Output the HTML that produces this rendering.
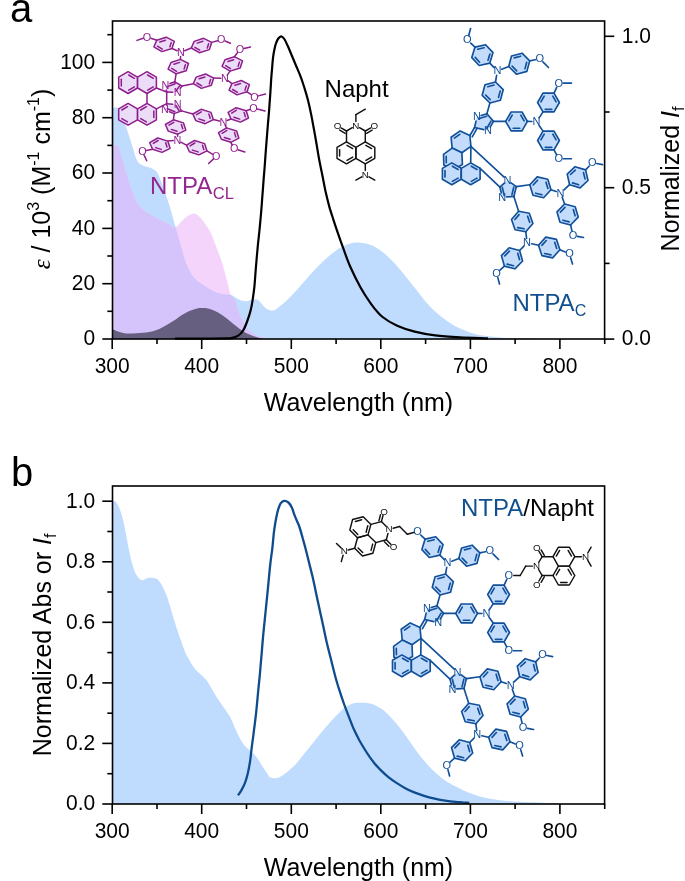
<!DOCTYPE html><html><head><meta charset="utf-8"><style>html,body{margin:0;padding:0;background:#fff;width:685px;height:881px;overflow:hidden}svg{display:block;will-change:transform}text{font-family:"Liberation Sans",sans-serif}.tl{font-size:21px}.tt{font-size:25px}</style></head><body>
<svg width="685" height="881" viewBox="0 0 685 881">
<defs><clipPath id="cb"><path d="M112.8,107.6 C113.3,107.6 115.0,107.4 116.0,107.6 C117.0,107.8 117.5,107.7 118.5,108.8 C119.5,109.9 120.8,111.8 121.9,114.3 C123.0,116.8 124.0,120.7 125.1,123.9 C126.2,127.1 127.1,129.7 128.3,133.4 C129.5,137.1 131.0,141.9 132.3,146.1 C133.6,150.3 135.0,155.9 136.2,158.8 C137.4,161.7 138.1,162.4 139.4,163.6 C140.7,164.8 142.5,165.3 144.2,166.0 C145.9,166.7 148.1,166.9 149.8,167.6 C151.5,168.3 153.2,169.1 154.5,170.0 C155.8,170.9 156.6,171.3 157.7,173.2 C158.8,175.0 159.7,177.9 160.9,181.1 C162.1,184.3 163.6,188.5 164.9,192.2 C166.2,195.9 167.6,199.7 168.8,203.4 C170.0,207.1 170.9,210.6 172.0,214.5 C173.1,218.4 174.4,223.1 175.4,226.6 C176.4,230.1 177.0,232.0 178.0,235.5 C179.0,239.0 180.3,243.7 181.5,247.8 C182.7,251.9 183.5,255.9 185.0,260.0 C186.5,264.1 188.6,269.1 190.3,272.3 C192.1,275.5 193.4,277.2 195.5,279.3 C197.6,281.4 200.2,283.0 202.6,284.6 C204.9,286.2 207.3,287.7 209.6,289.0 C211.9,290.3 214.3,291.6 216.6,292.5 C218.9,293.4 221.3,293.8 223.6,294.2 C225.9,294.6 228.6,294.2 230.6,294.8 C232.6,295.4 234.1,296.8 235.8,297.7 C237.6,298.6 239.3,299.8 241.1,300.4 C242.9,301.0 244.3,301.3 246.4,301.2 C248.5,301.1 251.4,299.6 253.4,299.5 C255.4,299.4 256.5,298.9 258.6,300.4 C260.7,301.8 263.6,306.5 265.8,308.2 C268.0,309.9 269.8,310.5 271.7,310.5 C273.6,310.5 274.6,310.3 277.5,308.2 C280.4,306.1 284.8,302.4 289.2,298.0 C293.6,293.6 298.9,287.2 303.8,281.9 C308.7,276.5 313.5,270.8 318.4,265.9 C323.3,261.0 328.6,256.1 333.0,252.7 C337.4,249.3 340.8,247.1 344.7,245.4 C348.6,243.7 352.5,242.7 356.4,242.5 C360.3,242.3 364.1,242.8 368.0,244.0 C371.9,245.2 375.8,247.1 379.7,249.8 C383.6,252.5 387.5,256.1 391.4,260.0 C395.3,263.9 399.2,268.6 403.1,273.2 C407.0,277.8 410.8,282.9 414.7,287.8 C418.6,292.7 422.5,298.0 426.4,302.4 C430.3,306.8 434.2,310.6 438.1,314.0 C442.0,317.4 446.2,320.4 449.8,322.8 C453.4,325.2 456.6,327.0 460.0,328.6 C463.4,330.2 466.6,331.3 470.0,332.4 C473.4,333.5 476.1,334.4 480.7,335.2 C485.3,336.0 491.8,336.7 497.5,337.2 C503.2,337.7 508.8,337.9 515.0,338.1 C521.2,338.3 531.7,338.5 535.0,338.6 L535.0,339.0 L112.8,339.0 Z"/></clipPath></defs>
<path d="M112.8,107.6 C113.3,107.6 115.0,107.4 116.0,107.6 C117.0,107.8 117.5,107.7 118.5,108.8 C119.5,109.9 120.8,111.8 121.9,114.3 C123.0,116.8 124.0,120.7 125.1,123.9 C126.2,127.1 127.1,129.7 128.3,133.4 C129.5,137.1 131.0,141.9 132.3,146.1 C133.6,150.3 135.0,155.9 136.2,158.8 C137.4,161.7 138.1,162.4 139.4,163.6 C140.7,164.8 142.5,165.3 144.2,166.0 C145.9,166.7 148.1,166.9 149.8,167.6 C151.5,168.3 153.2,169.1 154.5,170.0 C155.8,170.9 156.6,171.3 157.7,173.2 C158.8,175.0 159.7,177.9 160.9,181.1 C162.1,184.3 163.6,188.5 164.9,192.2 C166.2,195.9 167.6,199.7 168.8,203.4 C170.0,207.1 170.9,210.6 172.0,214.5 C173.1,218.4 174.4,223.1 175.4,226.6 C176.4,230.1 177.0,232.0 178.0,235.5 C179.0,239.0 180.3,243.7 181.5,247.8 C182.7,251.9 183.5,255.9 185.0,260.0 C186.5,264.1 188.6,269.1 190.3,272.3 C192.1,275.5 193.4,277.2 195.5,279.3 C197.6,281.4 200.2,283.0 202.6,284.6 C204.9,286.2 207.3,287.7 209.6,289.0 C211.9,290.3 214.3,291.6 216.6,292.5 C218.9,293.4 221.3,293.8 223.6,294.2 C225.9,294.6 228.6,294.2 230.6,294.8 C232.6,295.4 234.1,296.8 235.8,297.7 C237.6,298.6 239.3,299.8 241.1,300.4 C242.9,301.0 244.3,301.3 246.4,301.2 C248.5,301.1 251.4,299.6 253.4,299.5 C255.4,299.4 256.5,298.9 258.6,300.4 C260.7,301.8 263.6,306.5 265.8,308.2 C268.0,309.9 269.8,310.5 271.7,310.5 C273.6,310.5 274.6,310.3 277.5,308.2 C280.4,306.1 284.8,302.4 289.2,298.0 C293.6,293.6 298.9,287.2 303.8,281.9 C308.7,276.5 313.5,270.8 318.4,265.9 C323.3,261.0 328.6,256.1 333.0,252.7 C337.4,249.3 340.8,247.1 344.7,245.4 C348.6,243.7 352.5,242.7 356.4,242.5 C360.3,242.3 364.1,242.8 368.0,244.0 C371.9,245.2 375.8,247.1 379.7,249.8 C383.6,252.5 387.5,256.1 391.4,260.0 C395.3,263.9 399.2,268.6 403.1,273.2 C407.0,277.8 410.8,282.9 414.7,287.8 C418.6,292.7 422.5,298.0 426.4,302.4 C430.3,306.8 434.2,310.6 438.1,314.0 C442.0,317.4 446.2,320.4 449.8,322.8 C453.4,325.2 456.6,327.0 460.0,328.6 C463.4,330.2 466.6,331.3 470.0,332.4 C473.4,333.5 476.1,334.4 480.7,335.2 C485.3,336.0 491.8,336.7 497.5,337.2 C503.2,337.7 508.8,337.9 515.0,338.1 C521.2,338.3 531.7,338.5 535.0,338.6 L535.0,339.0 L112.8,339.0 Z" fill="#BFDBFE"/>
<path d="M112.8,146.5 C113.5,146.3 116.2,145.1 117.2,145.3 C118.2,145.5 117.9,145.7 118.7,147.7 C119.5,149.7 120.8,153.9 121.9,157.3 C123.0,160.8 124.0,164.7 125.1,168.4 C126.2,172.1 127.2,176.1 128.3,179.5 C129.4,182.9 130.3,185.9 131.5,189.1 C132.7,192.3 134.2,195.9 135.4,198.6 C136.6,201.2 137.3,203.2 138.6,205.0 C139.9,206.8 141.8,208.4 143.4,209.7 C145.0,211.0 146.6,211.8 148.2,212.9 C149.8,214.0 151.3,215.2 152.9,216.1 C154.5,217.0 156.1,217.7 157.7,218.5 C159.3,219.3 160.7,220.0 162.5,220.9 C164.3,221.8 167.0,223.1 168.8,224.1 C170.7,225.1 172.3,226.8 173.6,227.2 C174.9,227.6 175.8,227.1 176.8,226.4 C177.8,225.8 178.4,224.7 179.8,223.3 C181.2,221.9 183.2,219.5 185.0,218.0 C186.8,216.5 188.6,215.2 190.3,214.5 C192.1,213.8 193.8,213.1 195.5,213.7 C197.2,214.3 199.1,216.1 200.8,218.0 C202.6,219.9 204.2,222.4 206.0,225.0 C207.8,227.6 209.5,230.0 211.3,233.8 C213.1,237.6 214.8,243.1 216.6,247.8 C218.3,252.5 220.1,256.2 221.8,261.8 C223.6,267.4 225.6,275.6 227.1,281.1 C228.6,286.6 229.3,291.8 230.6,294.8 C231.9,297.8 233.6,296.5 234.9,299.2 C236.2,301.9 237.2,307.6 238.4,310.9 C239.6,314.2 240.5,316.3 241.9,319.0 C243.3,321.7 244.8,324.9 246.6,327.2 C248.3,329.5 250.2,331.4 252.4,333.0 C254.6,334.6 257.4,335.7 260.0,336.6 C262.6,337.5 266.7,338.2 268.0,338.5 L268.0,339.0 L112.8,339.0 Z" fill="#F5D4FC"/>
<path d="M112.8,146.5 C113.5,146.3 116.2,145.1 117.2,145.3 C118.2,145.5 117.9,145.7 118.7,147.7 C119.5,149.7 120.8,153.9 121.9,157.3 C123.0,160.8 124.0,164.7 125.1,168.4 C126.2,172.1 127.2,176.1 128.3,179.5 C129.4,182.9 130.3,185.9 131.5,189.1 C132.7,192.3 134.2,195.9 135.4,198.6 C136.6,201.2 137.3,203.2 138.6,205.0 C139.9,206.8 141.8,208.4 143.4,209.7 C145.0,211.0 146.6,211.8 148.2,212.9 C149.8,214.0 151.3,215.2 152.9,216.1 C154.5,217.0 156.1,217.7 157.7,218.5 C159.3,219.3 160.7,220.0 162.5,220.9 C164.3,221.8 167.0,223.1 168.8,224.1 C170.7,225.1 172.3,226.8 173.6,227.2 C174.9,227.6 175.8,227.1 176.8,226.4 C177.8,225.8 178.4,224.7 179.8,223.3 C181.2,221.9 183.2,219.5 185.0,218.0 C186.8,216.5 188.6,215.2 190.3,214.5 C192.1,213.8 193.8,213.1 195.5,213.7 C197.2,214.3 199.1,216.1 200.8,218.0 C202.6,219.9 204.2,222.4 206.0,225.0 C207.8,227.6 209.5,230.0 211.3,233.8 C213.1,237.6 214.8,243.1 216.6,247.8 C218.3,252.5 220.1,256.2 221.8,261.8 C223.6,267.4 225.6,275.6 227.1,281.1 C228.6,286.6 229.3,291.8 230.6,294.8 C231.9,297.8 233.6,296.5 234.9,299.2 C236.2,301.9 237.2,307.6 238.4,310.9 C239.6,314.2 240.5,316.3 241.9,319.0 C243.3,321.7 244.8,324.9 246.6,327.2 C248.3,329.5 250.2,331.4 252.4,333.0 C254.6,334.6 257.4,335.7 260.0,336.6 C262.6,337.5 266.7,338.2 268.0,338.5 L268.0,339.0 L112.8,339.0 Z" fill="#D4C4FB" clip-path="url(#cb)"/>
<path d="M112.8,329.3 C113.7,329.7 116.2,330.9 117.9,331.5 C119.6,332.1 121.1,332.6 123.1,333.0 C125.1,333.4 127.5,333.6 129.7,333.6 C131.9,333.6 134.1,333.3 136.3,333.2 C138.5,333.1 140.6,333.0 142.8,332.8 C145.0,332.6 147.2,332.3 149.4,331.9 C151.6,331.5 153.8,331.1 156.0,330.3 C158.2,329.5 160.4,328.5 162.6,327.3 C164.8,326.1 166.9,324.7 169.1,323.4 C171.3,322.1 173.5,320.8 175.7,319.4 C177.9,318.0 180.1,316.1 182.3,314.8 C184.5,313.5 186.6,312.3 188.8,311.3 C191.0,310.3 193.4,309.4 195.4,308.9 C197.4,308.3 198.9,308.1 201.0,308.0 C203.1,307.9 205.7,308.0 208.0,308.5 C210.3,309.0 212.7,309.8 215.0,310.9 C217.3,312.0 219.7,313.4 222.0,315.0 C224.3,316.6 226.7,318.3 229.0,320.2 C231.3,322.1 233.7,324.2 236.0,326.1 C238.3,328.0 240.7,329.9 243.0,331.3 C245.3,332.8 247.7,333.8 250.0,334.8 C252.3,335.8 255.0,336.6 257.0,337.2 C259.0,337.8 261.2,338.3 262.0,338.5 L262.0,339.0 L112.8,339.0 Z" fill="#675F80"/>
<path d="M175.0,338.7 C179.2,338.7 191.4,338.7 200.0,338.6 C208.6,338.6 221.5,338.5 226.7,338.4 C231.9,338.3 229.4,338.6 231.3,338.2 C233.2,337.8 236.2,337.0 238.2,335.7 C240.2,334.4 241.7,332.8 243.2,330.4 C244.7,327.9 246.1,324.3 247.3,321.0 C248.5,317.7 249.7,314.1 250.6,310.6 C251.5,307.1 252.0,304.1 252.6,300.1 C253.2,296.1 253.9,291.6 254.4,286.6 C254.9,281.6 255.2,276.4 255.7,270.0 C256.2,263.6 257.0,254.5 257.6,248.0 C258.2,241.5 258.8,236.5 259.4,231.0 C259.9,225.5 260.4,220.7 260.9,215.0 C261.4,209.3 261.9,202.9 262.3,197.0 C262.8,191.1 263.2,185.5 263.6,179.7 C264.1,173.9 264.6,167.9 265.0,162.0 C265.4,156.1 265.9,150.1 266.3,144.3 C266.8,138.5 267.2,132.4 267.7,127.0 C268.1,121.5 268.6,116.9 269.0,111.6 C269.4,106.3 269.8,100.4 270.2,95.0 C270.6,89.6 270.9,83.7 271.2,79.0 C271.5,74.3 271.9,70.6 272.2,67.0 C272.5,63.4 272.7,60.1 273.1,57.2 C273.5,54.3 273.9,51.8 274.4,49.5 C274.9,47.2 275.2,45.4 275.9,43.6 C276.5,41.8 277.4,39.7 278.3,38.5 C279.2,37.3 280.3,36.2 281.3,36.3 C282.3,36.4 283.2,37.4 284.3,39.0 C285.4,40.6 286.5,43.1 287.8,46.0 C289.1,48.9 290.7,53.0 292.2,56.5 C293.7,60.0 295.1,63.5 296.6,67.0 C298.1,70.5 299.7,74.1 301.0,77.6 C302.3,81.1 303.3,84.3 304.5,88.1 C305.7,91.9 306.8,95.6 308.0,100.3 C309.2,105.0 310.5,111.1 311.5,116.1 C312.5,121.1 313.2,125.3 314.1,130.1 C315.0,134.9 315.9,140.4 316.7,145.0 C317.5,149.6 317.9,152.5 318.8,157.5 C319.7,162.5 321.1,169.2 322.3,175.0 C323.5,180.8 324.6,187.3 325.8,192.6 C327.0,197.9 328.0,201.9 329.3,206.6 C330.6,211.3 332.1,215.6 333.7,220.6 C335.3,225.6 337.4,231.7 339.0,236.4 C340.6,241.1 341.5,243.4 343.4,248.6 C345.3,253.8 347.6,260.8 350.5,267.3 C353.4,273.8 357.3,281.7 360.7,287.8 C364.1,293.9 367.4,298.9 371.0,303.8 C374.6,308.7 378.2,313.4 382.6,317.0 C387.0,320.6 391.9,323.3 397.2,325.7 C402.5,328.1 408.4,330.0 414.7,331.6 C421.0,333.2 427.6,334.4 435.2,335.4 C442.8,336.4 451.2,336.9 460.0,337.4 C468.8,337.9 483.3,338.1 488.0,338.3" fill="none" stroke="#000" stroke-width="2.2" stroke-linejoin="round"/>
<path d="M112.8,500.8 C112.9,500.8 112.9,500.5 113.4,500.7 C113.9,500.9 114.8,500.7 115.7,501.8 C116.7,502.9 118.0,504.9 119.1,507.5 C120.2,510.1 121.4,513.4 122.5,517.7 C123.6,522.1 124.8,527.9 125.9,533.6 C127.0,539.3 128.2,546.5 129.3,551.8 C130.4,557.1 131.6,561.7 132.7,565.5 C133.8,569.3 134.6,572.0 136.1,574.5 C137.6,577.0 139.9,579.6 141.8,580.2 C143.7,580.8 145.6,578.4 147.5,578.0 C149.4,577.6 151.5,577.8 153.2,578.0 C154.9,578.2 156.2,578.2 157.7,579.5 C159.2,580.8 160.8,583.1 162.3,585.9 C163.8,588.7 165.3,591.9 166.8,596.1 C168.3,600.3 169.9,606.0 171.4,610.9 C172.9,615.8 174.4,621.0 175.9,625.7 C177.4,630.4 179.0,634.9 180.5,639.3 C182.0,643.6 183.4,648.1 185.0,651.8 C186.6,655.5 188.3,658.4 190.0,661.3 C191.7,664.2 193.4,666.9 195.1,669.0 C196.8,671.1 198.2,672.1 200.2,674.1 C202.2,676.1 205.0,678.4 207.0,680.9 C209.0,683.4 210.4,686.6 212.1,689.4 C213.8,692.2 215.3,694.8 217.3,697.9 C219.3,701.0 221.8,704.7 224.1,708.1 C226.4,711.5 228.9,714.7 230.9,718.4 C232.9,722.1 234.3,726.6 236.0,730.3 C237.7,734.0 239.4,737.7 241.1,740.5 C242.8,743.3 244.2,745.2 246.2,747.3 C248.2,749.4 251.0,751.3 253.0,753.3 C255.0,755.3 256.4,756.9 258.1,759.3 C259.8,761.7 261.6,765.1 263.3,767.8 C265.0,770.5 267.3,773.8 268.4,775.4 C269.5,777.0 268.8,776.7 270.0,777.2 C271.2,777.7 273.9,778.5 275.8,778.3 C277.8,778.1 279.8,777.2 281.7,776.1 C283.6,775.0 285.6,773.4 287.5,771.8 C289.4,770.2 291.4,768.5 293.4,766.6 C295.3,764.7 297.3,762.4 299.2,760.1 C301.1,757.8 303.1,755.2 305.0,752.8 C306.9,750.4 308.9,747.9 310.9,745.5 C312.8,743.1 314.8,740.6 316.7,738.2 C318.6,735.8 320.7,733.2 322.6,730.9 C324.6,728.6 326.5,726.5 328.4,724.3 C330.3,722.1 332.2,719.8 334.2,717.7 C336.1,715.6 338.2,713.7 340.1,711.9 C342.1,710.1 343.9,708.1 345.9,706.8 C347.8,705.5 349.9,704.6 351.8,703.9 C353.8,703.2 355.7,703.0 357.6,702.8 C359.5,702.6 361.3,702.7 363.4,702.8 C365.5,702.9 368.1,703.2 370.0,703.6 C371.9,704.0 372.7,704.1 375.0,705.3 C377.3,706.4 380.9,708.2 383.8,710.5 C386.7,712.8 389.7,716.1 392.6,719.3 C395.5,722.5 398.4,726.0 401.3,729.8 C404.2,733.6 407.2,737.9 410.1,742.0 C413.0,746.1 415.9,750.5 418.8,754.3 C421.7,758.1 424.7,761.6 427.6,764.8 C430.5,768.0 433.5,771.0 436.4,773.6 C439.3,776.2 442.2,778.6 445.1,780.6 C448.0,782.6 451.4,784.5 453.9,785.8 C456.4,787.1 458.3,787.7 460.0,788.5 C461.7,789.3 460.8,789.5 464.1,790.8 C467.4,792.1 474.1,795.0 479.8,796.5 C485.5,798.0 491.6,799.0 498.2,799.9 C504.8,800.8 512.7,801.3 519.3,801.7 C525.9,802.1 530.8,802.2 537.6,802.5 C544.4,802.8 556.3,803.3 560.0,803.5 L560.0,804.0 L112.8,804.0 Z" fill="#BFDBFE"/>
<path d="M238.0,795.3 C238.5,794.5 240.0,792.6 241.2,790.6 C242.3,788.6 243.8,786.2 244.9,783.2 C246.0,780.2 247.0,776.6 247.9,772.9 C248.8,769.2 249.5,765.0 250.1,761.1 C250.7,757.2 250.9,754.2 251.5,749.3 C252.1,744.4 253.1,737.5 253.8,731.6 C254.6,725.7 255.2,721.2 256.0,713.9 C256.8,706.6 257.8,694.8 258.5,688.0 C259.2,681.2 259.6,677.7 260.0,673.0 C260.4,668.3 260.5,666.6 261.1,660.0 C261.7,653.4 262.6,641.5 263.4,633.2 C264.2,625.0 264.9,618.1 265.7,610.5 C266.5,602.9 267.2,595.3 268.0,587.7 C268.8,580.1 269.4,571.8 270.2,565.0 C270.9,558.2 271.9,552.5 272.5,546.8 C273.1,541.1 273.5,535.4 274.1,530.9 C274.7,526.4 275.2,523.1 275.9,519.5 C276.6,515.9 277.4,511.9 278.2,509.3 C279.0,506.7 279.6,505.0 280.5,503.6 C281.4,502.2 282.6,501.1 283.9,500.9 C285.2,500.7 287.1,501.4 288.4,502.5 C289.7,503.6 290.7,505.3 291.8,507.5 C292.9,509.7 293.6,512.8 294.8,515.9 C296.0,519.0 297.8,522.4 299.1,526.0 C300.4,529.6 301.4,533.5 302.5,537.5 C303.6,541.5 304.8,545.6 305.9,550.0 C307.0,554.4 308.2,559.1 309.3,563.6 C310.4,568.1 311.6,572.4 312.7,577.3 C313.8,582.2 315.0,587.9 316.1,593.2 C317.2,598.5 318.4,603.8 319.5,609.1 C320.6,614.4 321.9,619.7 323.0,625.0 C324.1,630.3 325.1,635.2 326.4,640.9 C327.7,646.6 329.4,653.0 330.9,659.1 C332.4,665.2 334.2,672.4 335.5,677.3 C336.8,682.2 337.6,684.4 338.9,688.6 C340.2,692.8 341.9,697.8 343.5,702.5 C345.1,707.2 347.1,712.1 348.8,716.6 C350.6,721.1 352.2,725.7 354.0,729.6 C355.8,733.5 357.6,737.0 359.3,740.2 C361.1,743.4 362.8,746.2 364.5,749.0 C366.2,751.8 368.1,754.7 369.8,757.2 C371.6,759.7 373.0,761.6 375.0,764.0 C377.0,766.4 379.7,769.1 382.0,771.4 C384.3,773.7 386.6,775.7 389.0,777.6 C391.4,779.5 393.5,780.9 396.1,782.6 C398.7,784.3 401.9,786.3 404.8,787.9 C407.7,789.5 410.4,790.8 413.6,792.1 C416.8,793.4 420.6,794.7 424.1,795.8 C427.6,796.9 431.1,797.8 434.6,798.6 C438.1,799.4 441.6,800.1 445.1,800.6 C448.6,801.1 452.8,801.6 455.6,801.9 C458.4,802.2 459.7,802.2 462.0,802.4 C464.3,802.6 468.1,802.8 469.3,802.9" fill="none" stroke="#0E4C8E" stroke-width="2.3" stroke-linejoin="round"/>
<rect x="112.5" y="21.0" width="492.1" height="318.0" fill="none" stroke="#000" stroke-width="1.6"/>
<line x1="102.3" y1="339.0" x2="112.5" y2="339.0" stroke="#000" stroke-width="1.6"/>
<line x1="102.3" y1="283.7" x2="112.5" y2="283.7" stroke="#000" stroke-width="1.6"/>
<line x1="102.3" y1="228.4" x2="112.5" y2="228.4" stroke="#000" stroke-width="1.6"/>
<line x1="102.3" y1="173.0" x2="112.5" y2="173.0" stroke="#000" stroke-width="1.6"/>
<line x1="102.3" y1="117.7" x2="112.5" y2="117.7" stroke="#000" stroke-width="1.6"/>
<line x1="102.3" y1="62.4" x2="112.5" y2="62.4" stroke="#000" stroke-width="1.6"/>
<line x1="107.3" y1="311.3" x2="112.5" y2="311.3" stroke="#000" stroke-width="1.6"/>
<line x1="107.3" y1="256.0" x2="112.5" y2="256.0" stroke="#000" stroke-width="1.6"/>
<line x1="107.3" y1="200.7" x2="112.5" y2="200.7" stroke="#000" stroke-width="1.6"/>
<line x1="107.3" y1="145.4" x2="112.5" y2="145.4" stroke="#000" stroke-width="1.6"/>
<line x1="107.3" y1="90.1" x2="112.5" y2="90.1" stroke="#000" stroke-width="1.6"/>
<line x1="107.3" y1="34.7" x2="112.5" y2="34.7" stroke="#000" stroke-width="1.6"/>
<line x1="112.2" y1="339.0" x2="112.2" y2="349.0" stroke="#000" stroke-width="1.6"/>
<text transform="translate(112.2,372.6) scale(1,1.07)" text-anchor="middle" class="tl">300</text>
<line x1="201.7" y1="339.0" x2="201.7" y2="349.0" stroke="#000" stroke-width="1.6"/>
<text transform="translate(201.7,372.6) scale(1,1.07)" text-anchor="middle" class="tl">400</text>
<line x1="291.3" y1="339.0" x2="291.3" y2="349.0" stroke="#000" stroke-width="1.6"/>
<text transform="translate(291.3,372.6) scale(1,1.07)" text-anchor="middle" class="tl">500</text>
<line x1="380.8" y1="339.0" x2="380.8" y2="349.0" stroke="#000" stroke-width="1.6"/>
<text transform="translate(380.8,372.6) scale(1,1.07)" text-anchor="middle" class="tl">600</text>
<line x1="470.4" y1="339.0" x2="470.4" y2="349.0" stroke="#000" stroke-width="1.6"/>
<text transform="translate(470.4,372.6) scale(1,1.07)" text-anchor="middle" class="tl">700</text>
<line x1="559.9" y1="339.0" x2="559.9" y2="349.0" stroke="#000" stroke-width="1.6"/>
<text transform="translate(559.9,372.6) scale(1,1.07)" text-anchor="middle" class="tl">800</text>
<line x1="157.0" y1="339.0" x2="157.0" y2="344.0" stroke="#000" stroke-width="1.6"/>
<line x1="246.5" y1="339.0" x2="246.5" y2="344.0" stroke="#000" stroke-width="1.6"/>
<line x1="336.1" y1="339.0" x2="336.1" y2="344.0" stroke="#000" stroke-width="1.6"/>
<line x1="425.6" y1="339.0" x2="425.6" y2="344.0" stroke="#000" stroke-width="1.6"/>
<line x1="515.1" y1="339.0" x2="515.1" y2="344.0" stroke="#000" stroke-width="1.6"/>
<line x1="604.7" y1="339.0" x2="604.7" y2="344.0" stroke="#000" stroke-width="1.6"/>
<text transform="translate(95.2,345.3) scale(1,1.07)" text-anchor="end" class="tl">0</text>
<text transform="translate(95.2,290.0) scale(1,1.07)" text-anchor="end" class="tl">20</text>
<text transform="translate(95.2,234.7) scale(1,1.07)" text-anchor="end" class="tl">40</text>
<text transform="translate(95.2,179.3) scale(1,1.07)" text-anchor="end" class="tl">60</text>
<text transform="translate(95.2,124.0) scale(1,1.07)" text-anchor="end" class="tl">80</text>
<text transform="translate(95.2,68.7) scale(1,1.07)" text-anchor="end" class="tl">100</text>
<line x1="604.6" y1="339.1" x2="614.3" y2="339.1" stroke="#000" stroke-width="1.6"/>
<line x1="604.6" y1="187.7" x2="614.3" y2="187.7" stroke="#000" stroke-width="1.6"/>
<line x1="604.6" y1="36.3" x2="614.3" y2="36.3" stroke="#000" stroke-width="1.6"/>
<line x1="604.6" y1="263.4" x2="609.6" y2="263.4" stroke="#000" stroke-width="1.6"/>
<line x1="604.6" y1="112.0" x2="609.6" y2="112.0" stroke="#000" stroke-width="1.6"/>
<text transform="translate(621.8,345.4) scale(1,1.07)" class="tl">0.0</text>
<text transform="translate(621.8,194.0) scale(1,1.07)" class="tl">0.5</text>
<text transform="translate(621.8,42.6) scale(1,1.07)" class="tl">1.0</text>
<rect x="112.5" y="486.0" width="492.1" height="318.0" fill="none" stroke="#000" stroke-width="1.6"/>
<line x1="102.3" y1="804.0" x2="112.5" y2="804.0" stroke="#000" stroke-width="1.6"/>
<line x1="102.3" y1="743.4" x2="112.5" y2="743.4" stroke="#000" stroke-width="1.6"/>
<line x1="102.3" y1="682.9" x2="112.5" y2="682.9" stroke="#000" stroke-width="1.6"/>
<line x1="102.3" y1="622.3" x2="112.5" y2="622.3" stroke="#000" stroke-width="1.6"/>
<line x1="102.3" y1="561.8" x2="112.5" y2="561.8" stroke="#000" stroke-width="1.6"/>
<line x1="102.3" y1="501.2" x2="112.5" y2="501.2" stroke="#000" stroke-width="1.6"/>
<line x1="107.3" y1="773.7" x2="112.5" y2="773.7" stroke="#000" stroke-width="1.6"/>
<line x1="107.3" y1="713.2" x2="112.5" y2="713.2" stroke="#000" stroke-width="1.6"/>
<line x1="107.3" y1="652.6" x2="112.5" y2="652.6" stroke="#000" stroke-width="1.6"/>
<line x1="107.3" y1="592.0" x2="112.5" y2="592.0" stroke="#000" stroke-width="1.6"/>
<line x1="107.3" y1="531.5" x2="112.5" y2="531.5" stroke="#000" stroke-width="1.6"/>
<line x1="112.2" y1="804.0" x2="112.2" y2="814.0" stroke="#000" stroke-width="1.6"/>
<text transform="translate(112.2,837.6) scale(1,1.07)" text-anchor="middle" class="tl">300</text>
<line x1="201.7" y1="804.0" x2="201.7" y2="814.0" stroke="#000" stroke-width="1.6"/>
<text transform="translate(201.7,837.6) scale(1,1.07)" text-anchor="middle" class="tl">400</text>
<line x1="291.3" y1="804.0" x2="291.3" y2="814.0" stroke="#000" stroke-width="1.6"/>
<text transform="translate(291.3,837.6) scale(1,1.07)" text-anchor="middle" class="tl">500</text>
<line x1="380.8" y1="804.0" x2="380.8" y2="814.0" stroke="#000" stroke-width="1.6"/>
<text transform="translate(380.8,837.6) scale(1,1.07)" text-anchor="middle" class="tl">600</text>
<line x1="470.4" y1="804.0" x2="470.4" y2="814.0" stroke="#000" stroke-width="1.6"/>
<text transform="translate(470.4,837.6) scale(1,1.07)" text-anchor="middle" class="tl">700</text>
<line x1="559.9" y1="804.0" x2="559.9" y2="814.0" stroke="#000" stroke-width="1.6"/>
<text transform="translate(559.9,837.6) scale(1,1.07)" text-anchor="middle" class="tl">800</text>
<line x1="157.0" y1="804.0" x2="157.0" y2="809.0" stroke="#000" stroke-width="1.6"/>
<line x1="246.5" y1="804.0" x2="246.5" y2="809.0" stroke="#000" stroke-width="1.6"/>
<line x1="336.1" y1="804.0" x2="336.1" y2="809.0" stroke="#000" stroke-width="1.6"/>
<line x1="425.6" y1="804.0" x2="425.6" y2="809.0" stroke="#000" stroke-width="1.6"/>
<line x1="515.1" y1="804.0" x2="515.1" y2="809.0" stroke="#000" stroke-width="1.6"/>
<line x1="604.7" y1="804.0" x2="604.7" y2="809.0" stroke="#000" stroke-width="1.6"/>
<text transform="translate(95.2,810.3) scale(1,1.07)" text-anchor="end" class="tl">0.0</text>
<text transform="translate(95.2,749.7) scale(1,1.07)" text-anchor="end" class="tl">0.2</text>
<text transform="translate(95.2,689.2) scale(1,1.07)" text-anchor="end" class="tl">0.4</text>
<text transform="translate(95.2,628.6) scale(1,1.07)" text-anchor="end" class="tl">0.6</text>
<text transform="translate(95.2,568.1) scale(1,1.07)" text-anchor="end" class="tl">0.8</text>
<text transform="translate(95.2,507.5) scale(1,1.07)" text-anchor="end" class="tl">1.0</text>
<text x="10" y="22.3" style="font-size:40px">a</text>
<text x="11" y="486.4" style="font-size:40px">b</text>
<text x="358.5" y="411" text-anchor="middle" class="tt">Wavelength (nm)</text>
<text x="358.5" y="876" text-anchor="middle" class="tt">Wavelength (nm)</text>
<text transform="translate(49.7,179) rotate(-90)" text-anchor="middle" class="tt"><tspan style="font-family:'Liberation Serif';font-style:italic">&#949;</tspan> / 10<tspan dy="-10.5" style="font-size:16px">3</tspan><tspan dy="10.5"> (M</tspan><tspan dy="-10.5" style="font-size:16px">-1</tspan><tspan dy="10.5"> cm</tspan><tspan dy="-10.5" style="font-size:16px">-1</tspan><tspan dy="10.5">)</tspan></text>
<text transform="translate(678.7,179) rotate(-90)" text-anchor="middle" class="tt">Normalized <tspan font-style="italic">I</tspan><tspan dy="5" style="font-size:16px">f</tspan></text>
<text transform="translate(50.7,644.9) rotate(-90)" text-anchor="middle" class="tt">Normalized Abs or <tspan font-style="italic">I</tspan><tspan dy="5" style="font-size:16px">f</tspan></text>
<text x="150" y="193.6" style="font-size:24px" fill="#93268F">NTPA<tspan dy="5.6" dx="0.5" style="font-size:16.6px">CL</tspan></text>
<text x="512.4" y="310.6" style="font-size:24px" fill="#10508F">NTPA<tspan dy="5.3" style="font-size:16px">C</tspan></text>
<text x="324.6" y="97.1" style="font-size:24px">Napht</text>
<text x="461" y="515.6" style="font-size:24px"><tspan fill="#10508F">NTPA</tspan>/Napht</text>
<g stroke="#8F1E8D" stroke-width="1.50" stroke-linejoin="round" stroke-linecap="round" fill="none">
<polygon points="137.5,88.0 128.1,93.5 118.7,88.0 118.7,77.1 128.1,71.7 137.5,77.1" fill="#EBDCF7"/>
<line x1="134.4" y1="86.9" x2="128.7" y2="90.2"/>
<line x1="121.3" y1="85.9" x2="121.3" y2="79.3"/>
<line x1="128.7" y1="75.0" x2="134.4" y2="78.3"/>
<polygon points="156.4,88.0 147.0,93.5 137.6,88.0 137.6,77.1 147.0,71.7 156.4,77.1" fill="#EBDCF7"/>
<line x1="153.3" y1="86.9" x2="147.6" y2="90.2"/>
<line x1="147.6" y1="75.0" x2="153.3" y2="78.3"/>
<polygon points="137.5,119.8 128.1,125.2 118.7,119.8 118.7,108.8 128.1,103.4 137.5,108.8" fill="#EBDCF7"/>
<line x1="127.5" y1="121.9" x2="121.8" y2="118.6"/>
<line x1="121.8" y1="110.0" x2="127.5" y2="106.7"/>
<polygon points="156.4,119.8 147.0,125.2 137.6,119.8 137.6,108.8 147.0,103.4 156.4,108.8" fill="#EBDCF7"/>
<line x1="146.4" y1="121.9" x2="140.7" y2="118.6"/>
<line x1="140.7" y1="110.0" x2="146.4" y2="106.7"/>
<line x1="153.8" y1="111.0" x2="153.8" y2="117.6"/>
<polygon points="166.7,92.0 165.3,85.2 174.8,81.8 182.0,86.0 177.7,92.4" fill="#EBDCF7" stroke="none"/>
<line x1="166.7" y1="92.0" x2="166.3" y2="90.1"/>
<line x1="170.0" y1="83.5" x2="174.8" y2="81.8"/>
<line x1="174.8" y1="81.8" x2="182.0" y2="86.0"/>
<line x1="182.0" y1="86.0" x2="180.5" y2="88.2"/>
<line x1="172.7" y1="92.2" x2="166.7" y2="92.0"/>
<line x1="167.6" y1="86.6" x2="175.2" y2="83.8"/>
<line x1="179.4" y1="86.1" x2="176.0" y2="91.2"/>
<polygon points="166.7,103.7 164.8,109.8 174.2,113.6 181.6,110.9 177.7,104.6" fill="#EBDCF7" stroke="none"/>
<line x1="166.7" y1="103.7" x2="166.3" y2="105.0"/>
<line x1="169.4" y1="111.7" x2="174.2" y2="113.6"/>
<line x1="174.2" y1="113.6" x2="181.6" y2="110.9"/>
<line x1="181.6" y1="110.9" x2="180.3" y2="108.9"/>
<line x1="172.7" y1="104.2" x2="166.7" y2="103.7"/>
<line x1="167.4" y1="108.7" x2="174.9" y2="111.7"/>
<line x1="179.0" y1="110.5" x2="175.9" y2="105.5"/>
<polygon points="153.9,46.9 156.8,40.3 166.2,37.2 174.3,41.3 172.0,48.5 161.9,51.6" fill="#EBDCF7"/>
<line x1="159.8" y1="42.0" x2="165.5" y2="40.2"/>
<line x1="171.2" y1="42.6" x2="169.9" y2="46.9"/>
<line x1="162.3" y1="49.1" x2="157.5" y2="46.2"/>
<polygon points="191.3,48.0 194.2,41.4 203.6,38.3 211.7,42.4 209.4,49.6 199.3,52.7" fill="#EBDCF7"/>
<line x1="197.2" y1="43.1" x2="202.9" y2="41.3"/>
<line x1="208.6" y1="43.7" x2="207.3" y2="48.0"/>
<line x1="199.7" y1="50.2" x2="194.9" y2="47.3"/>
<polygon points="168.1,69.1 171.0,62.5 180.4,59.4 188.5,63.5 186.2,70.7 176.1,73.8" fill="#EBDCF7"/>
<line x1="174.0" y1="64.2" x2="179.7" y2="62.4"/>
<line x1="185.4" y1="64.8" x2="184.1" y2="69.1"/>
<line x1="176.5" y1="71.3" x2="171.7" y2="68.4"/>
<polygon points="193.3,83.7 196.2,77.1 205.6,74.0 213.7,78.1 211.4,85.3 201.3,88.4" fill="#EBDCF7"/>
<line x1="199.2" y1="78.8" x2="204.9" y2="77.0"/>
<line x1="210.6" y1="79.4" x2="209.3" y2="83.7"/>
<line x1="201.7" y1="85.9" x2="196.9" y2="83.0"/>
<polygon points="222.1,66.4 225.0,59.8 234.4,56.7 242.5,60.8 240.2,68.0 230.1,71.1" fill="#EBDCF7"/>
<line x1="228.0" y1="61.5" x2="233.7" y2="59.7"/>
<line x1="239.4" y1="62.1" x2="238.1" y2="66.4"/>
<line x1="230.5" y1="68.6" x2="225.7" y2="65.7"/>
<polygon points="229.0,90.2 231.9,83.6 241.3,80.5 249.4,84.6 247.1,91.8 237.0,94.9" fill="#EBDCF7"/>
<line x1="234.9" y1="85.3" x2="240.6" y2="83.5"/>
<line x1="246.3" y1="85.9" x2="245.0" y2="90.2"/>
<line x1="237.4" y1="92.4" x2="232.6" y2="89.5"/>
<polygon points="192.9,114.0 195.8,120.6 205.2,123.7 213.3,119.6 211.0,112.4 200.9,109.3" fill="#EBDCF7"/>
<line x1="198.8" y1="118.9" x2="204.5" y2="120.7"/>
<line x1="210.2" y1="118.3" x2="208.9" y2="114.0"/>
<line x1="201.3" y1="111.8" x2="196.5" y2="114.7"/>
<polygon points="228.1,112.4 231.0,119.0 240.4,122.1 248.5,118.0 246.2,110.8 236.1,107.7" fill="#EBDCF7"/>
<line x1="234.0" y1="117.3" x2="239.7" y2="119.1"/>
<line x1="245.4" y1="116.7" x2="244.1" y2="112.4"/>
<line x1="236.5" y1="110.2" x2="231.7" y2="113.1"/>
<polygon points="218.5,132.6 221.4,139.2 230.8,142.3 238.9,138.2 236.6,131.0 226.5,127.9" fill="#EBDCF7"/>
<line x1="224.4" y1="137.5" x2="230.1" y2="139.3"/>
<line x1="235.8" y1="136.9" x2="234.5" y2="132.6"/>
<line x1="226.9" y1="130.4" x2="222.1" y2="133.3"/>
<polygon points="165.4,124.5 168.3,131.1 177.7,134.2 185.8,130.1 183.5,122.9 173.4,119.8" fill="#EBDCF7"/>
<line x1="171.3" y1="129.4" x2="177.0" y2="131.2"/>
<line x1="182.7" y1="128.8" x2="181.4" y2="124.5"/>
<line x1="173.8" y1="122.3" x2="169.0" y2="125.2"/>
<polygon points="149.7,142.7 152.6,149.3 162.0,152.4 170.1,148.3 167.8,141.1 157.7,138.0" fill="#EBDCF7"/>
<line x1="155.6" y1="147.6" x2="161.3" y2="149.4"/>
<line x1="167.0" y1="147.0" x2="165.7" y2="142.7"/>
<line x1="158.1" y1="140.5" x2="153.3" y2="143.4"/>
<polygon points="186.5,145.2 189.4,151.8 198.8,154.9 206.9,150.8 204.6,143.6 194.5,140.5" fill="#EBDCF7"/>
<line x1="192.4" y1="150.1" x2="198.1" y2="151.9"/>
<line x1="203.8" y1="149.5" x2="202.5" y2="145.2"/>
<line x1="194.9" y1="143.0" x2="190.1" y2="145.9"/>
<line x1="147.0" y1="93.5" x2="147.0" y2="103.4"/>
<line x1="156.4" y1="88.0" x2="166.7" y2="92.0"/>
<line x1="156.4" y1="108.8" x2="166.7" y2="103.7"/>
<line x1="166.7" y1="92.0" x2="166.7" y2="103.7"/>
<line x1="172.0" y1="48.5" x2="177.2" y2="50.8"/>
<line x1="184.6" y1="50.8" x2="191.3" y2="48.0"/>
<line x1="180.6" y1="56.4" x2="180.4" y2="59.4"/>
<line x1="176.1" y1="73.8" x2="174.8" y2="81.8"/>
<line x1="156.8" y1="40.3" x2="150.8" y2="38.3"/>
<line x1="143.2" y1="38.3" x2="137.0" y2="40.4"/>
<line x1="211.7" y1="42.4" x2="217.5" y2="40.7"/>
<line x1="225.0" y1="41.0" x2="230.5" y2="43.2"/>
<line x1="182.0" y1="86.0" x2="193.3" y2="83.7"/>
<line x1="213.7" y1="78.1" x2="220.8" y2="78.2"/>
<line x1="227.2" y1="75.1" x2="230.1" y2="71.1"/>
<line x1="234.4" y1="56.7" x2="237.6" y2="52.5"/>
<line x1="243.9" y1="48.4" x2="250.5" y2="47.0"/>
<line x1="228.0" y1="80.7" x2="231.9" y2="83.6"/>
<line x1="247.1" y1="91.8" x2="251.2" y2="94.7"/>
<line x1="258.4" y1="95.9" x2="265.5" y2="94.0"/>
<line x1="181.6" y1="110.9" x2="192.9" y2="114.0"/>
<line x1="213.3" y1="119.6" x2="219.5" y2="121.1"/>
<line x1="227.1" y1="120.5" x2="231.0" y2="119.0"/>
<line x1="246.2" y1="110.8" x2="249.7" y2="109.5"/>
<line x1="257.3" y1="109.1" x2="265.0" y2="111.1"/>
<line x1="225.3" y1="125.5" x2="226.5" y2="127.9"/>
<line x1="230.8" y1="142.3" x2="232.2" y2="145.1"/>
<line x1="237.9" y1="149.8" x2="244.8" y2="152.0"/>
<line x1="174.2" y1="113.6" x2="173.4" y2="119.8"/>
<line x1="177.7" y1="134.2" x2="177.6" y2="136.3"/>
<line x1="173.3" y1="140.6" x2="167.8" y2="141.1"/>
<line x1="152.6" y1="149.3" x2="146.3" y2="150.5"/>
<line x1="144.0" y1="154.9" x2="146.7" y2="160.8"/>
<line x1="180.8" y1="142.2" x2="186.5" y2="145.2"/>
<line x1="206.9" y1="150.8" x2="212.8" y2="154.3"/>
<line x1="213.3" y1="159.1" x2="208.6" y2="163.5"/>
</g>
<g fill="#8F1E8D" font-size="10.8" text-anchor="middle" style="font-family:'Liberation Sans',sans-serif">
<text x="165.3" y="88.7">N</text>
<text x="177.7" y="95.9">N</text>
<text x="164.8" y="113.3">N</text>
<text x="177.7" y="108.1">N</text>
<text x="180.9" y="55.9">N</text>
<text x="147.0" y="40.5">O</text>
<text x="221.3" y="43.0">O</text>
<text x="224.8" y="81.8">N</text>
<text x="240.0" y="52.8">O</text>
<text x="254.5" y="100.5">O</text>
<text x="223.4" y="125.5">N</text>
<text x="253.4" y="111.6">O</text>
<text x="234.1" y="152.1">O</text>
<text x="177.3" y="143.8">N</text>
<text x="142.4" y="154.8">O</text>
<text x="216.2" y="159.8">O</text>
</g>
<g stroke="#11509A" stroke-width="1.65" stroke-linejoin="round" stroke-linecap="round" fill="none">
<polygon points="489.8,63.1 479.2,65.5 471.8,57.6 475.0,47.1 485.6,44.7 493.0,52.6" fill="#C3DCFC"/>
<line x1="479.6" y1="62.2" x2="475.2" y2="57.4"/>
<line x1="477.7" y1="49.2" x2="484.0" y2="47.7"/>
<line x1="489.9" y1="54.0" x2="488.0" y2="60.2"/>
<polygon points="526.9,71.4 516.4,74.2 508.7,66.5 511.5,56.0 522.0,53.2 529.7,60.9" fill="#C3DCFC"/>
<line x1="516.7" y1="70.8" x2="512.1" y2="66.2"/>
<line x1="514.3" y1="57.9" x2="520.6" y2="56.2"/>
<line x1="526.7" y1="62.3" x2="525.0" y2="68.6"/>
<polygon points="500.4,100.2 489.9,103.0 482.2,95.3 485.0,84.8 495.5,82.0 503.2,89.7" fill="#C3DCFC"/>
<line x1="490.2" y1="99.6" x2="485.6" y2="95.0"/>
<line x1="487.8" y1="86.7" x2="494.1" y2="85.0"/>
<line x1="500.2" y1="91.1" x2="498.5" y2="97.4"/>
<polygon points="486.9,113.7 476.9,116.8 474.6,127.5 488.1,130.6 493.5,121.4" fill="#C3DCFC" stroke="none"/>
<line x1="486.9" y1="113.7" x2="481.1" y2="115.5"/>
<line x1="476.0" y1="121.1" x2="474.6" y2="127.5"/>
<line x1="474.6" y1="127.5" x2="483.8" y2="129.6"/>
<line x1="490.3" y1="126.8" x2="493.5" y2="121.4"/>
<line x1="493.5" y1="121.4" x2="486.9" y2="113.7"/>
<line x1="486.6" y1="116.2" x2="478.6" y2="118.7"/>
<line x1="486.7" y1="128.5" x2="491.0" y2="121.2"/>
<polygon points="527.4,121.4 522.0,130.8 511.1,130.8 505.6,121.4 511.1,112.0 522.0,112.0" fill="#C3DCFC"/>
<line x1="519.8" y1="128.2" x2="513.2" y2="128.2"/>
<line x1="508.9" y1="120.8" x2="512.2" y2="115.1"/>
<line x1="520.8" y1="115.1" x2="524.1" y2="120.8"/>
<polygon points="559.4,102.5 554.0,111.9 543.0,111.9 537.6,102.5 543.0,93.1 554.0,93.1" fill="#C3DCFC"/>
<line x1="551.8" y1="109.3" x2="545.2" y2="109.3"/>
<line x1="540.9" y1="101.9" x2="544.2" y2="96.2"/>
<line x1="552.8" y1="96.2" x2="556.1" y2="101.9"/>
<polygon points="559.4,140.5 554.0,149.9 543.0,149.9 537.6,140.5 543.0,131.1 554.0,131.1" fill="#C3DCFC"/>
<line x1="551.8" y1="147.3" x2="545.2" y2="147.3"/>
<line x1="540.9" y1="139.9" x2="544.2" y2="134.2"/>
<line x1="552.8" y1="134.2" x2="556.1" y2="139.9"/>
<polygon points="470.9,146.4 461.9,152.7 452.1,148.1 451.1,137.2 460.1,130.9 469.9,135.5" fill="#C3DCFC"/>
<line x1="454.4" y1="138.1" x2="459.8" y2="134.3"/>
<polygon points="461.9,152.7 452.1,148.1 443.5,154.4 443.8,165.0 453.0,170.0 462.4,164.5" fill="#C3DCFC"/>
<line x1="446.2" y1="156.4" x2="446.3" y2="162.7"/>
<polygon points="461.2,179.2 451.8,184.7 442.4,179.2 442.4,168.4 451.8,162.9 461.2,168.3" fill="#C3DCFC"/>
<line x1="458.1" y1="178.1" x2="452.4" y2="181.4"/>
<line x1="445.0" y1="177.1" x2="445.0" y2="170.5"/>
<line x1="452.4" y1="166.2" x2="458.1" y2="169.5"/>
<polygon points="480.1,179.2 470.7,184.7 461.3,179.2 461.3,168.4 470.7,162.9 480.1,168.3" fill="#C3DCFC"/>
<line x1="477.0" y1="178.1" x2="471.3" y2="181.4"/>
<line x1="471.3" y1="166.2" x2="477.0" y2="169.5"/>
<polygon points="507.5,180.2 516.3,186.6 513.9,196.5 502.3,197.1 499.9,187.2" fill="#C3DCFC" stroke="none"/>
<line x1="511.1" y1="182.8" x2="516.3" y2="186.6"/>
<line x1="516.3" y1="186.6" x2="513.9" y2="196.5"/>
<line x1="513.9" y1="196.5" x2="506.7" y2="196.9"/>
<line x1="501.3" y1="192.8" x2="499.9" y2="187.2"/>
<line x1="499.9" y1="187.2" x2="504.3" y2="183.2"/>
<line x1="513.8" y1="187.0" x2="511.9" y2="194.9"/>
<line x1="504.2" y1="195.3" x2="502.3" y2="187.4"/>
<polygon points="551.0,189.8 543.6,197.7 533.0,195.3 529.8,184.8 537.2,176.9 547.8,179.3" fill="#C3DCFC"/>
<line x1="542.0" y1="194.7" x2="535.7" y2="193.2"/>
<line x1="533.2" y1="185.0" x2="537.6" y2="180.2"/>
<line x1="546.0" y1="182.2" x2="547.9" y2="188.4"/>
<polygon points="588.0,180.5 580.1,187.9 569.6,184.7 567.2,174.1 575.1,166.7 585.6,169.9" fill="#C3DCFC"/>
<line x1="578.7" y1="184.8" x2="572.5" y2="182.9"/>
<line x1="570.5" y1="174.5" x2="575.3" y2="170.1"/>
<line x1="583.5" y1="172.6" x2="585.0" y2="178.9"/>
<polygon points="578.2,217.1 570.6,225.0 560.0,222.3 557.0,211.9 564.6,204.0 575.2,206.7" fill="#C3DCFC"/>
<line x1="569.1" y1="221.9" x2="562.8" y2="220.3"/>
<line x1="560.4" y1="212.1" x2="565.0" y2="207.4"/>
<line x1="573.3" y1="209.5" x2="575.1" y2="215.8"/>
<polygon points="532.9,223.5 525.8,231.8 515.1,229.8 511.5,219.5 518.6,211.2 529.3,213.2" fill="#C3DCFC"/>
<line x1="524.1" y1="228.8" x2="517.7" y2="227.6"/>
<line x1="514.9" y1="219.5" x2="519.1" y2="214.6"/>
<line x1="527.6" y1="216.2" x2="529.7" y2="222.3"/>
<polygon points="522.6,261.0 514.9,268.8 504.4,266.1 501.4,255.6 509.1,247.8 519.6,250.5" fill="#C3DCFC"/>
<line x1="513.5" y1="265.7" x2="507.1" y2="264.1"/>
<line x1="504.8" y1="255.9" x2="509.4" y2="251.2"/>
<line x1="517.7" y1="253.3" x2="519.5" y2="259.6"/>
<polygon points="559.9,249.7 552.6,257.9 541.9,255.6 538.5,245.3 545.8,237.1 556.5,239.4" fill="#C3DCFC"/>
<line x1="551.0" y1="254.9" x2="544.6" y2="253.5"/>
<line x1="541.9" y1="245.4" x2="546.3" y2="240.5"/>
<line x1="554.7" y1="242.3" x2="556.7" y2="248.5"/>
<line x1="475.0" y1="47.1" x2="470.7" y2="43.1"/>
<line x1="468.6" y1="35.7" x2="470.6" y2="28.5"/>
<line x1="489.8" y1="63.1" x2="494.2" y2="67.6"/>
<line x1="501.7" y1="69.2" x2="508.7" y2="66.5"/>
<line x1="529.7" y1="60.9" x2="535.3" y2="59.7"/>
<line x1="542.9" y1="61.9" x2="548.5" y2="67.5"/>
<line x1="496.6" y1="75.4" x2="495.5" y2="82.0"/>
<line x1="489.9" y1="103.0" x2="486.9" y2="113.7"/>
<line x1="493.5" y1="121.4" x2="505.6" y2="121.4"/>
<line x1="527.4" y1="121.4" x2="531.9" y2="121.5"/>
<line x1="539.1" y1="117.9" x2="543.0" y2="111.9"/>
<line x1="554.0" y1="93.1" x2="556.7" y2="87.3"/>
<line x1="563.1" y1="83.1" x2="571.5" y2="83.1"/>
<line x1="539.1" y1="125.5" x2="543.0" y2="131.1"/>
<line x1="554.0" y1="149.9" x2="556.5" y2="154.7"/>
<line x1="563.1" y1="158.7" x2="571.5" y2="158.7"/>
<line x1="469.9" y1="135.5" x2="474.6" y2="127.5"/>
<line x1="472.2" y1="136.9" x2="476.8" y2="128.8"/>
<line x1="470.9" y1="146.4" x2="470.7" y2="162.9"/>
<line x1="470.9" y1="146.4" x2="504.1" y2="177.1"/>
<line x1="480.1" y1="168.3" x2="499.9" y2="187.2"/>
<line x1="516.3" y1="186.6" x2="529.8" y2="184.8"/>
<line x1="551.0" y1="189.8" x2="556.2" y2="191.5"/>
<line x1="564.0" y1="189.9" x2="569.6" y2="184.7"/>
<line x1="585.6" y1="169.9" x2="589.2" y2="166.0"/>
<line x1="596.7" y1="163.5" x2="602.5" y2="164.6"/>
<line x1="562.2" y1="197.3" x2="564.6" y2="204.0"/>
<line x1="570.6" y1="225.0" x2="572.0" y2="231.1"/>
<line x1="577.3" y1="236.4" x2="583.5" y2="237.5"/>
<line x1="513.9" y1="196.5" x2="518.6" y2="211.2"/>
<line x1="525.8" y1="231.8" x2="526.6" y2="238.3"/>
<line x1="523.9" y1="246.2" x2="519.6" y2="250.5"/>
<line x1="504.4" y1="266.1" x2="500.0" y2="270.2"/>
<line x1="497.8" y1="277.6" x2="499.5" y2="284.0"/>
<line x1="531.6" y1="243.8" x2="538.5" y2="245.3"/>
<line x1="559.9" y1="249.7" x2="565.2" y2="251.9"/>
<line x1="570.7" y1="257.9" x2="572.5" y2="264.0"/>
</g>
<g fill="#11509A" font-size="11.0" text-anchor="middle" style="font-family:'Liberation Sans',sans-serif">
<text x="467.4" y="43.4">O</text>
<text x="497.4" y="74.4">N</text>
<text x="539.8" y="62.3">O</text>
<text x="476.9" y="120.3">N</text>
<text x="488.1" y="134.1">N</text>
<text x="536.5" y="125.2">N</text>
<text x="558.7" y="86.6">O</text>
<text x="558.7" y="162.2">O</text>
<text x="507.5" y="183.7">N</text>
<text x="502.3" y="200.6">N</text>
<text x="560.6" y="196.5">N</text>
<text x="592.4" y="166.2">O</text>
<text x="573.0" y="239.1">O</text>
<text x="527.1" y="246.4">N</text>
<text x="496.6" y="276.9">O</text>
<text x="569.5" y="257.2">O</text>
</g>
<g stroke="#11509A" stroke-width="1.65" stroke-linejoin="round" stroke-linecap="round" fill="none">
<polygon points="439.9,555.1 429.3,557.5 421.9,549.6 425.1,539.1 435.7,536.7 443.1,544.6" fill="#C3DCFC"/>
<line x1="429.7" y1="554.2" x2="425.3" y2="549.4"/>
<line x1="427.8" y1="541.2" x2="434.1" y2="539.7"/>
<line x1="440.0" y1="546.0" x2="438.1" y2="552.2"/>
<polygon points="477.0,563.4 466.5,566.2 458.8,558.5 461.6,548.0 472.1,545.2 479.8,552.9" fill="#C3DCFC"/>
<line x1="466.8" y1="562.8" x2="462.2" y2="558.2"/>
<line x1="464.4" y1="549.9" x2="470.7" y2="548.2"/>
<line x1="476.8" y1="554.3" x2="475.1" y2="560.6"/>
<polygon points="450.5,592.2 440.0,595.0 432.3,587.3 435.1,576.8 445.6,574.0 453.3,581.7" fill="#C3DCFC"/>
<line x1="440.3" y1="591.6" x2="435.7" y2="587.0"/>
<line x1="437.9" y1="578.7" x2="444.2" y2="577.0"/>
<line x1="450.3" y1="583.1" x2="448.6" y2="589.4"/>
<polygon points="437.0,605.7 427.0,608.8 424.7,619.5 438.2,622.6 443.6,613.4" fill="#C3DCFC" stroke="none"/>
<line x1="437.0" y1="605.7" x2="431.2" y2="607.5"/>
<line x1="426.1" y1="613.1" x2="424.7" y2="619.5"/>
<line x1="424.7" y1="619.5" x2="433.9" y2="621.6"/>
<line x1="440.4" y1="618.8" x2="443.6" y2="613.4"/>
<line x1="443.6" y1="613.4" x2="437.0" y2="605.7"/>
<line x1="436.7" y1="608.2" x2="428.7" y2="610.7"/>
<line x1="436.8" y1="620.5" x2="441.1" y2="613.2"/>
<polygon points="477.5,613.4 472.1,622.8 461.2,622.8 455.7,613.4 461.2,604.0 472.1,604.0" fill="#C3DCFC"/>
<line x1="469.9" y1="620.2" x2="463.3" y2="620.2"/>
<line x1="459.0" y1="612.8" x2="462.3" y2="607.1"/>
<line x1="470.9" y1="607.1" x2="474.2" y2="612.8"/>
<polygon points="509.5,594.5 504.1,603.9 493.2,603.9 487.7,594.5 493.2,585.1 504.1,585.1" fill="#C3DCFC"/>
<line x1="501.9" y1="601.3" x2="495.3" y2="601.3"/>
<line x1="491.0" y1="593.9" x2="494.3" y2="588.2"/>
<line x1="502.9" y1="588.2" x2="506.2" y2="593.9"/>
<polygon points="509.5,632.5 504.1,641.9 493.2,641.9 487.7,632.5 493.2,623.1 504.1,623.1" fill="#C3DCFC"/>
<line x1="501.9" y1="639.3" x2="495.3" y2="639.3"/>
<line x1="491.0" y1="631.9" x2="494.3" y2="626.2"/>
<line x1="502.9" y1="626.2" x2="506.2" y2="631.9"/>
<polygon points="421.0,638.4 412.0,644.7 402.2,640.1 401.2,629.2 410.2,622.9 420.0,627.5" fill="#C3DCFC"/>
<line x1="404.5" y1="630.1" x2="409.9" y2="626.3"/>
<polygon points="412.0,644.7 402.2,640.1 393.6,646.4 393.9,657.0 403.1,662.0 412.5,656.5" fill="#C3DCFC"/>
<line x1="396.3" y1="648.4" x2="396.4" y2="654.7"/>
<polygon points="411.3,671.2 401.9,676.7 392.5,671.2 392.5,660.3 401.9,654.9 411.3,660.3" fill="#C3DCFC"/>
<line x1="408.2" y1="670.1" x2="402.5" y2="673.4"/>
<line x1="395.1" y1="669.1" x2="395.1" y2="662.5"/>
<line x1="402.5" y1="658.2" x2="408.2" y2="661.5"/>
<polygon points="430.2,671.2 420.8,676.7 411.4,671.2 411.4,660.3 420.8,654.9 430.2,660.3" fill="#C3DCFC"/>
<line x1="427.1" y1="670.1" x2="421.4" y2="673.4"/>
<line x1="421.4" y1="658.2" x2="427.1" y2="661.5"/>
<polygon points="457.6,672.2 466.4,678.6 464.0,688.5 452.4,689.1 450.0,679.2" fill="#C3DCFC" stroke="none"/>
<line x1="461.2" y1="674.8" x2="466.4" y2="678.6"/>
<line x1="466.4" y1="678.6" x2="464.0" y2="688.5"/>
<line x1="464.0" y1="688.5" x2="456.8" y2="688.9"/>
<line x1="451.4" y1="684.8" x2="450.0" y2="679.2"/>
<line x1="450.0" y1="679.2" x2="454.4" y2="675.2"/>
<line x1="463.9" y1="679.0" x2="462.0" y2="686.9"/>
<line x1="454.3" y1="687.3" x2="452.4" y2="679.4"/>
<polygon points="501.1,681.8 493.7,689.7 483.1,687.3 479.9,676.8 487.3,668.9 497.9,671.3" fill="#C3DCFC"/>
<line x1="492.1" y1="686.7" x2="485.8" y2="685.2"/>
<line x1="483.3" y1="677.0" x2="487.7" y2="672.2"/>
<line x1="496.1" y1="674.2" x2="498.0" y2="680.4"/>
<polygon points="538.1,672.5 530.2,679.9 519.7,676.7 517.3,666.1 525.2,658.7 535.7,661.9" fill="#C3DCFC"/>
<line x1="528.8" y1="676.8" x2="522.6" y2="674.9"/>
<line x1="520.6" y1="666.5" x2="525.4" y2="662.1"/>
<line x1="533.6" y1="664.6" x2="535.1" y2="670.9"/>
<polygon points="528.3,709.1 520.7,717.0 510.1,714.3 507.1,703.9 514.7,696.0 525.3,698.7" fill="#C3DCFC"/>
<line x1="519.2" y1="713.9" x2="512.9" y2="712.3"/>
<line x1="510.5" y1="704.1" x2="515.1" y2="699.4"/>
<line x1="523.4" y1="701.5" x2="525.2" y2="707.8"/>
<polygon points="483.0,715.5 475.9,723.8 465.2,721.8 461.6,711.5 468.7,703.2 479.4,705.2" fill="#C3DCFC"/>
<line x1="474.2" y1="720.8" x2="467.8" y2="719.6"/>
<line x1="465.0" y1="711.5" x2="469.2" y2="706.6"/>
<line x1="477.7" y1="708.2" x2="479.8" y2="714.3"/>
<polygon points="472.7,753.0 465.0,760.8 454.5,758.1 451.5,747.6 459.2,739.8 469.7,742.5" fill="#C3DCFC"/>
<line x1="463.6" y1="757.7" x2="457.2" y2="756.1"/>
<line x1="454.9" y1="747.9" x2="459.5" y2="743.2"/>
<line x1="467.8" y1="745.3" x2="469.6" y2="751.6"/>
<polygon points="510.0,741.7 502.7,749.9 492.0,747.6 488.6,737.3 495.9,729.1 506.6,731.4" fill="#C3DCFC"/>
<line x1="501.1" y1="746.9" x2="494.7" y2="745.5"/>
<line x1="492.0" y1="737.4" x2="496.4" y2="732.5"/>
<line x1="504.8" y1="734.3" x2="506.8" y2="740.5"/>
<line x1="425.1" y1="539.1" x2="420.8" y2="535.1"/>
<line x1="439.9" y1="555.1" x2="444.3" y2="559.6"/>
<line x1="451.8" y1="561.2" x2="458.8" y2="558.5"/>
<line x1="479.8" y1="552.9" x2="485.4" y2="551.7"/>
<line x1="493.0" y1="553.9" x2="498.6" y2="559.5"/>
<line x1="446.7" y1="567.4" x2="445.6" y2="574.0"/>
<line x1="440.0" y1="595.0" x2="437.0" y2="605.7"/>
<line x1="443.6" y1="613.4" x2="455.7" y2="613.4"/>
<line x1="477.5" y1="613.4" x2="482.0" y2="613.5"/>
<line x1="489.2" y1="609.9" x2="493.2" y2="603.9"/>
<line x1="504.1" y1="585.1" x2="506.8" y2="579.3"/>
<line x1="489.2" y1="617.5" x2="493.2" y2="623.1"/>
<line x1="504.1" y1="641.9" x2="506.6" y2="646.7"/>
<line x1="513.2" y1="650.7" x2="521.6" y2="650.7"/>
<line x1="420.0" y1="627.5" x2="424.7" y2="619.5"/>
<line x1="422.3" y1="628.9" x2="426.9" y2="620.8"/>
<line x1="421.0" y1="638.4" x2="420.8" y2="654.9"/>
<line x1="421.0" y1="638.4" x2="454.2" y2="669.1"/>
<line x1="430.2" y1="660.3" x2="450.0" y2="679.2"/>
<line x1="466.4" y1="678.6" x2="479.9" y2="676.8"/>
<line x1="501.1" y1="681.8" x2="506.3" y2="683.5"/>
<line x1="514.1" y1="681.9" x2="519.7" y2="676.7"/>
<line x1="535.7" y1="661.9" x2="539.3" y2="658.0"/>
<line x1="546.8" y1="655.5" x2="552.6" y2="656.6"/>
<line x1="512.3" y1="689.3" x2="514.7" y2="696.0"/>
<line x1="520.7" y1="717.0" x2="522.1" y2="723.1"/>
<line x1="527.4" y1="728.4" x2="533.6" y2="729.5"/>
<line x1="464.0" y1="688.5" x2="468.7" y2="703.2"/>
<line x1="475.9" y1="723.8" x2="476.7" y2="730.3"/>
<line x1="474.0" y1="738.2" x2="469.7" y2="742.5"/>
<line x1="454.5" y1="758.1" x2="450.1" y2="762.2"/>
<line x1="447.9" y1="769.6" x2="449.6" y2="776.0"/>
<line x1="481.7" y1="735.8" x2="488.6" y2="737.3"/>
<line x1="510.0" y1="741.7" x2="515.3" y2="743.9"/>
<line x1="520.8" y1="749.9" x2="522.6" y2="756.0"/>
</g>
<g fill="#11509A" font-size="11.0" text-anchor="middle" style="font-family:'Liberation Sans',sans-serif">
<text x="417.5" y="535.4">O</text>
<text x="447.5" y="566.4">N</text>
<text x="489.9" y="554.3">O</text>
<text x="427.0" y="612.3">N</text>
<text x="438.2" y="626.1">N</text>
<text x="486.6" y="617.2">N</text>
<text x="508.8" y="578.6">O</text>
<text x="508.8" y="654.2">O</text>
<text x="457.6" y="675.7">N</text>
<text x="452.4" y="692.6">N</text>
<text x="510.7" y="688.5">N</text>
<text x="542.5" y="658.2">O</text>
<text x="523.1" y="731.1">O</text>
<text x="477.2" y="738.4">N</text>
<text x="446.7" y="768.9">O</text>
<text x="519.6" y="749.2">O</text>
</g>
<g stroke="#111111" stroke-width="1.45" stroke-linejoin="round" stroke-linecap="round" fill="none">
<polygon points="355.9,158.3 346.5,163.8 337.0,158.3 337.0,147.4 346.5,141.9 355.9,147.4" fill="none"/>
<line x1="352.7" y1="157.1" x2="347.0" y2="160.4"/>
<line x1="339.6" y1="156.1" x2="339.6" y2="149.6"/>
<line x1="347.0" y1="145.3" x2="352.7" y2="148.6"/>
<polygon points="374.8,158.3 365.3,163.8 355.9,158.3 355.9,147.4 365.3,141.9 374.8,147.4" fill="none"/>
<line x1="371.6" y1="157.1" x2="365.9" y2="160.4"/>
<line x1="365.9" y1="145.3" x2="371.6" y2="148.6"/>
<polygon points="357.5,537.8 349.8,530.1 352.6,519.5 363.2,516.7 370.9,524.4 368.0,534.9" fill="none"/>
<line x1="357.8" y1="534.4" x2="353.2" y2="529.8"/>
<line x1="355.4" y1="521.5" x2="361.7" y2="519.8"/>
<line x1="367.8" y1="525.8" x2="366.1" y2="532.2"/>
<polygon points="362.4,556.0 354.7,548.3 357.5,537.8 368.0,534.9 375.8,542.6 372.9,553.2" fill="none"/>
<line x1="362.7" y1="552.6" x2="358.1" y2="548.0"/>
<line x1="372.7" y1="544.1" x2="371.0" y2="550.4"/>
<polygon points="569.3,566.1 574.8,575.5 569.3,585.0 558.4,585.0 553.0,575.5 558.4,566.1" fill="none"/>
<line x1="568.1" y1="569.3" x2="571.4" y2="575.0"/>
<line x1="567.1" y1="582.4" x2="560.6" y2="582.4"/>
<line x1="556.3" y1="575.0" x2="559.6" y2="569.3"/>
<polygon points="569.3,547.2 574.8,556.7 569.3,566.1 558.4,566.1 553.0,556.7 558.4,547.2" fill="none"/>
<line x1="568.1" y1="550.4" x2="571.4" y2="556.1"/>
<line x1="556.3" y1="556.1" x2="559.6" y2="550.4"/>
<line x1="346.5" y1="141.9" x2="346.5" y2="131.0"/>
<line x1="365.3" y1="141.9" x2="365.3" y2="131.0"/>
<line x1="346.5" y1="131.0" x2="352.3" y2="127.7"/>
<line x1="365.3" y1="131.0" x2="359.5" y2="127.7"/>
<line x1="346.5" y1="131.0" x2="341.0" y2="127.9"/>
<line x1="345.2" y1="133.3" x2="339.7" y2="130.1"/>
<line x1="365.3" y1="131.0" x2="370.8" y2="127.9"/>
<line x1="366.6" y1="133.3" x2="372.1" y2="130.1"/>
<line x1="365.3" y1="163.8" x2="365.3" y2="170.4"/>
<line x1="361.7" y1="176.8" x2="355.9" y2="180.1"/>
<line x1="369.0" y1="176.8" x2="374.8" y2="180.1"/>
<line x1="355.9" y1="121.4" x2="355.9" y2="114.7"/>
<line x1="355.9" y1="114.7" x2="365.3" y2="109.2"/>
<line x1="370.9" y1="524.4" x2="381.4" y2="521.6"/>
<line x1="375.8" y1="542.6" x2="386.3" y2="539.8"/>
<line x1="381.4" y1="521.6" x2="386.1" y2="526.3"/>
<line x1="386.3" y1="539.8" x2="388.0" y2="533.4"/>
<line x1="381.4" y1="521.6" x2="383.0" y2="515.5"/>
<line x1="378.9" y1="520.9" x2="380.5" y2="514.8"/>
<line x1="386.3" y1="539.8" x2="390.8" y2="544.3"/>
<line x1="384.4" y1="541.7" x2="388.9" y2="546.2"/>
<line x1="354.7" y1="548.3" x2="348.2" y2="550.0"/>
<line x1="341.2" y1="548.1" x2="336.5" y2="543.4"/>
<line x1="343.1" y1="555.2" x2="341.3" y2="561.6"/>
<line x1="393.2" y1="528.2" x2="399.6" y2="526.5"/>
<line x1="399.6" y1="526.5" x2="407.3" y2="534.2"/>
<line x1="407.3" y1="534.2" x2="413.6" y2="532.5"/>
<line x1="553.0" y1="575.5" x2="542.1" y2="575.5"/>
<line x1="553.0" y1="556.7" x2="542.1" y2="556.7"/>
<line x1="542.1" y1="575.5" x2="538.7" y2="569.7"/>
<line x1="542.1" y1="556.7" x2="538.7" y2="562.5"/>
<line x1="542.1" y1="575.5" x2="538.9" y2="581.0"/>
<line x1="544.3" y1="576.8" x2="541.1" y2="582.3"/>
<line x1="542.1" y1="556.7" x2="538.9" y2="551.2"/>
<line x1="544.3" y1="555.4" x2="541.1" y2="549.9"/>
<line x1="574.8" y1="556.7" x2="581.4" y2="556.7"/>
<line x1="587.8" y1="560.3" x2="591.1" y2="566.1"/>
<line x1="587.8" y1="553.0" x2="591.1" y2="547.2"/>
<line x1="532.4" y1="566.1" x2="525.7" y2="566.1"/>
<line x1="525.7" y1="566.1" x2="520.2" y2="575.5"/>
<line x1="520.2" y1="575.5" x2="513.8" y2="575.5"/>
</g>
<g fill="#111111" font-size="9.8" text-anchor="middle" style="font-family:'Liberation Sans',sans-serif">
<text x="355.9" y="128.7">N</text>
<text x="337.5" y="129.0">O</text>
<text x="374.3" y="129.0">O</text>
<text x="365.3" y="177.8">N</text>
<text x="389.1" y="532.4">N</text>
<text x="384.1" y="514.7">O</text>
<text x="393.6" y="550.3">O</text>
<text x="344.2" y="554.2">N</text>
<text x="536.6" y="569.2">N</text>
<text x="536.9" y="587.6">O</text>
<text x="536.9" y="550.8">O</text>
<text x="585.6" y="559.8">N</text>
</g>
</svg></body></html>
